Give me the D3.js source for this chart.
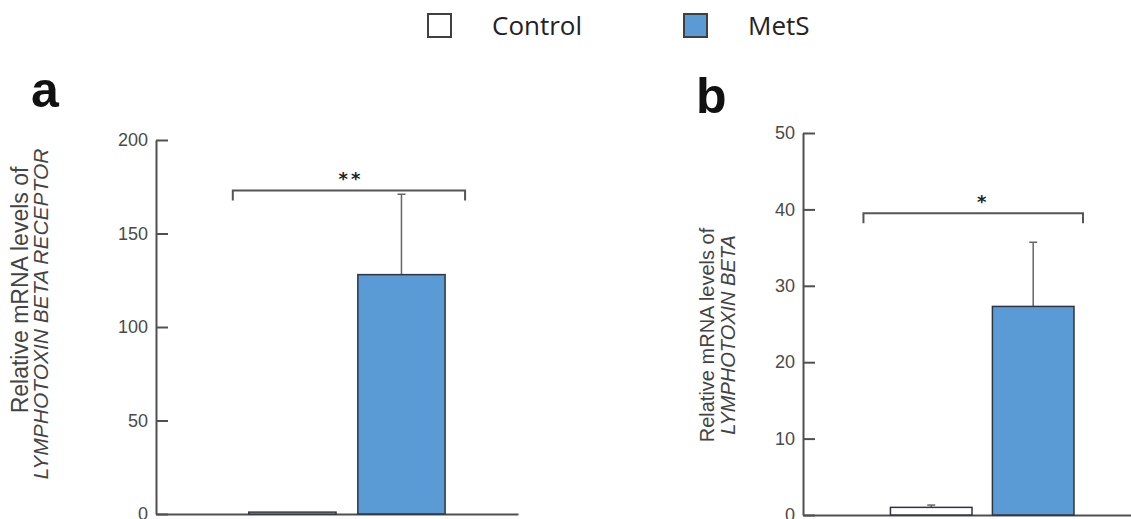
<!DOCTYPE html>
<html>
<head>
<meta charset="utf-8">
<script src="https://cdn.jsdelivr.net/npm/d3@7"></script>
<style>
  html, body { margin: 0; padding: 0; background: #fff; }
  svg { display: block; }
</style>
</head>
<body>
<svg id="chart" width="1131" height="519"></svg>
<script>
// Groups and series
const groups = ["Control", "MetS"];
const seriesNames = ["Control", "MetS"];

// Panel a: LYMPHOTOXIN BETA RECEPTOR
const ltbrMeans = [1, 128];
const ltbrErrors = [0, 43];
const ltbrTicks = [0, 50, 100, 150, 200];
const ltbrSignif = "**";

// Panel b: LYMPHOTOXIN BETA
const ltbMeans = [1.0, 27.3];
const ltbErrors = [0.3, 8.4];
const ltbTicks = [0, 10, 20, 30, 40, 50];
const ltbSignif = "*";

const colors = { Control: "#ffffff", MetS: "#5b9bd5" };
const axisColor = "#505050";
const svg = d3.select("#chart");

// ---- Legend ----
const legend = svg.append("g");
const legendX = d3.scalePoint().domain(seriesNames).range([427, 683]);
seriesNames.forEach(name => {
  const g = legend.append("g").attr("transform", `translate(${legendX(name)},13)`);
  g.append("rect").attr("x", 1).attr("y", 1).attr("width", 23).attr("height", 23)
    .attr("fill", colors[name]).attr("stroke", "#404040").attr("stroke-width", 2);
  g.append("text").attr("x", 65).attr("y", 22)
    .attr("font-family", "'Open Sans', sans-serif").attr("font-size", 26)
    .attr("fill", "#222").text(name);
});

function panel(cfg) {
  const g = svg.append("g");

  // Panel letter
  g.append("text").attr("x", cfg.letterX).attr("y", cfg.letterY)
    .attr("font-family", "'Liberation Sans', Arial, sans-serif")
    .attr("font-weight", "bold").attr("font-size", 50).attr("fill", "#111")
    .text(cfg.letter);

  const y = d3.scaleLinear().domain(cfg.domain).range(cfg.yRange);
  const x = d3.scaleBand().domain(groups).range(cfg.xRange)
    .paddingInner(cfg.padInner).paddingOuter(cfg.padOuter).align(cfg.align);

  // Y axis with inward ticks
  const yAxis = d3.axisLeft(y).tickValues(cfg.ticks).tickSizeInner(-12)
    .tickSizeOuter(0).tickPadding(8).tickFormat(d3.format("d"));
  const ya = g.append("g").attr("transform", `translate(${cfg.xRange[0]},0)`).call(yAxis);
  ya.select(".domain").attr("stroke", axisColor).attr("stroke-width", 2);
  ya.selectAll(".tick line").attr("stroke", axisColor).attr("stroke-width", 2);
  ya.selectAll(".tick text").attr("fill", "#4a4a4a")
    .attr("font-family", "'Liberation Sans', Arial, sans-serif").attr("font-size", 18);

  // X axis baseline
  const xa = g.append("g").attr("transform", `translate(0,${y(0)})`)
    .call(d3.axisBottom(x).tickValues([]).tickSizeOuter(0));
  xa.select(".domain").attr("stroke", axisColor).attr("stroke-width", 2);

  const rows = groups.map((k, i) => ({ key: k, mean: cfg.means[i], err: cfg.errors[i] }));

  // Error bars (upper only)
  const eb = g.append("g").attr("stroke", "#666").attr("stroke-width", 1.5);
  rows.filter(d => d.err > 0).forEach(d => {
    const cx = x(d.key) + x.bandwidth() / 2;
    eb.append("line").attr("x1", cx).attr("x2", cx).attr("y1", y(d.mean)).attr("y2", y(d.mean + d.err));
    eb.append("line").attr("x1", cx - 4).attr("x2", cx + 4).attr("y1", y(d.mean + d.err)).attr("y2", y(d.mean + d.err));
  });

  // Bars
  g.append("g").selectAll("rect").data(rows).join("rect")
    .attr("x", d => x(d.key)).attr("width", x.bandwidth())
    .attr("y", d => y(d.mean)).attr("height", d => y(0) - y(d.mean))
    .attr("fill", d => colors[d.key]).attr("stroke", "#2e3440").attr("stroke-width", 1.5);

  // Significance bracket
  const bx0 = x(groups[0]) - cfg.bracketIn[0];
  const bx1 = x(groups[1]) + x.bandwidth() + cfg.bracketIn[1];
  const by = y(cfg.bracketLevel);
  g.append("path")
    .attr("d", `M${bx0},${by + 10}V${by}H${bx1}V${by + 10}`)
    .attr("fill", "none").attr("stroke", "#555").attr("stroke-width", 2);
  g.append("text").attr("x", (bx0 + bx1) / 2 + cfg.starShift).attr("y", by - 5)
    .attr("text-anchor", "middle")
    .attr("font-family", "'DejaVu Sans', sans-serif").attr("font-weight", "bold")
    .attr("font-size", 18).attr("fill", "#222").attr("letter-spacing", 3)
    .text(cfg.signif);

  // Y axis title (two lines, second line italic gene name)
  const t = g.append("text")
    .attr("transform", `translate(${cfg.titleX},${cfg.titleY}) rotate(-90)`)
    .attr("text-anchor", "middle").attr("fill", "#444")
    .attr("font-family", "'Liberation Sans', Arial, sans-serif");
  t.append("tspan").attr("x", cfg.line1Shift).attr("y", 0).attr("font-size", cfg.titleSize[0])
    .text("Relative mRNA levels of");
  t.append("tspan").attr("x", 0).attr("y", cfg.lineGap).attr("font-size", cfg.titleSize[1])
    .attr("font-style", "italic").text(cfg.gene);
}

panel({
  letter: "a", letterX: 31, letterY: 107,
  domain: [0, 200], yRange: [514, 140], ticks: ltbrTicks,
  xRange: [156, 518], padInner: 0.2, padOuter: 0.76, align: 0.56,
  means: ltbrMeans, errors: ltbrErrors,
  bracketLevel: 173, bracketIn: [16, 20], signif: ltbrSignif, starShift: 2,
  titleX: 28, titleY: 314, line1Shift: 24, lineGap: 20, titleSize: [23, 21],
  gene: "LYMPHOTOXIN BETA RECEPTOR"
});

panel({
  letter: "b", letterX: 696, letterY: 113,
  domain: [0, 50], yRange: [515, 133], ticks: ltbTicks,
  xRange: [803, 1165], padInner: 0.2, padOuter: 0.875, align: 0.49,
  means: ltbMeans, errors: ltbErrors,
  bracketLevel: 39.5, bracketIn: [27, 9], signif: ltbSignif, starShift: 10,
  titleX: 714, titleY: 335, line1Shift: 0, lineGap: 21, titleSize: [20, 20],
  gene: "LYMPHOTOXIN BETA"
});
</script>
</body>
</html>
